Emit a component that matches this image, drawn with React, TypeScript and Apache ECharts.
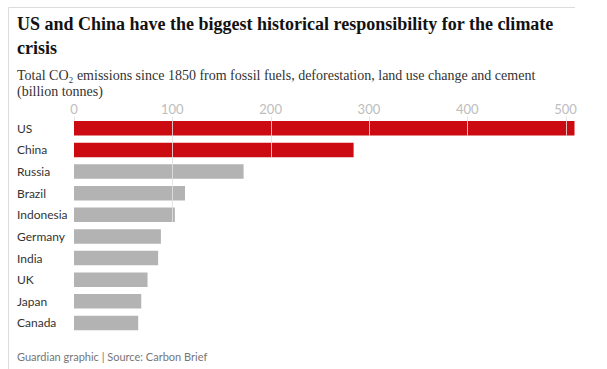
import React, { useEffect, useRef } from "react";
import * as echarts from "echarts";

const categories = ["US", "China", "Russia", "Brazil", "Indonesia", "Germany", "India", "UK", "Japan", "Canada"];
const emissions = [509.1, 284.4, 172.5, 112.9, 102.6, 88.4, 85.6, 74.8, 68.4, 65.3];
const highlighted = ["US", "China"];
const tickValues = [0, 100, 200, 300, 400, 500];

const titleText = "US and China have the biggest historical responsibility for the climate\ncrisis";
const subtitleText = "Total CO\u2082 emissions since 1850 from fossil fuels, deforestation, land use change and cement\n(billion tonnes)";
const footerText = "Guardian graphic | Source: Carbon Brief";

const RED = "#cc0a11";
const GREY = "#b3b3b3";
const GAP = 0.33;

export default function App() {
  const ref = useRef<HTMLDivElement>(null);
  useEffect(() => {
    if (!ref.current) return;
    const chart = echarts.init(ref.current, null, { renderer: "svg" });
    // For each gridline value, index of the lowest bar reaching it
    const lineData = tickValues.map((t) => {
      let idx = 0;
      if (t > 0) {
        emissions.forEach((v, i) => {
          if (v >= t) idx = i;
        });
      }
      return [t, idx];
    });
    chart.setOption({
      animation: false,
      graphic: [
        { type: "line", shape: { x1: 8.5, y1: 7.5, x2: 575, y2: 7.5 }, style: { stroke: "#dcdcdc", lineWidth: 1 } },
        { type: "line", shape: { x1: 8.5, y1: 7.5, x2: 8.5, y2: 369 }, style: { stroke: "#dcdcdc", lineWidth: 1 } },
        {
          type: "text",
          left: 17,
          top: 12,
          style: {
            text: titleText,
            font: "bold 18px 'Liberation Serif', serif",
            fill: "#121212",
            lineHeight: 24,
          },
        },
        {
          type: "text",
          left: 17,
          top: 67,
          style: {
            text: subtitleText,
            font: "14px 'Liberation Serif', serif",
            fill: "#333333",
            lineHeight: 16,
          },
        },
        {
          type: "text",
          left: 17,
          top: 351,
          style: {
            text: footerText,
            font: "11px Lato, sans-serif",
            fill: "#767676",
          },
        },
      ],
      grid: {
        left: 74,
        width: 500.5,
        top: 117.5,
        bottom: 35.2,
        containLabel: false,
        outerBoundsMode: "none",
      },
      xAxis: {
        type: "value",
        position: "top",
        min: 0,
        max: emissions[0],
        interval: 100,
        axisLine: { show: false },
        axisTick: { show: false },
        splitLine: { show: false },
        axisLabel: {
          color: "#bdbdbd",
          fontFamily: "Lato, sans-serif",
          fontSize: 13,
          margin: 2,
          showMaxLabel: false,
        },
      },
      yAxis: {
        type: "category",
        data: categories,
        inverse: true,
        axisLine: { show: false },
        axisTick: { show: false },
        axisLabel: {
          align: "left",
          margin: 57,
          color: "#333333",
          fontFamily: "Lato, sans-serif",
          fontSize: 12,
        },
      },
      series: [
        {
          type: "bar",
          data: emissions.map((v, i) => ({
            value: v,
            itemStyle: { color: highlighted.includes(categories[i]) ? RED : GREY },
          })),
          barCategoryGap: `${GAP * 100}%`,
          z: 2,
        },
        {
          type: "custom",
          z: 5,
          silent: true,
          data: lineData,
          renderItem: (params: any, api: any) => {
            const t = api.value(0);
            const idx = api.value(1);
            const p = api.coord([t, idx]);
            const band = api.size([0, 1])[1];
            const barH = band * (1 - GAP);
            const top = params.coordSys.y;
            const bottom = t === 0 ? api.coord([0, 0])[1] - barH / 2 : p[1] + barH / 2;
            const x = Math.round(p[0]) + 0.5;
            return {
              type: "line",
              shape: { x1: x, y1: top - 1, x2: x, y2: bottom },
              style: { stroke: "#e0e0e0", lineWidth: 1, opacity: 0.85 },
            };
          },
        },
      ],
    });
    return () => chart.dispose();
  }, []);
  return (
    <div style={{ position: "fixed", left: 0, top: 0, width: 607, height: 369, background: "#fff" }}>
      <div ref={ref} style={{ width: 607, height: 369 }} />
    </div>
  );
}
